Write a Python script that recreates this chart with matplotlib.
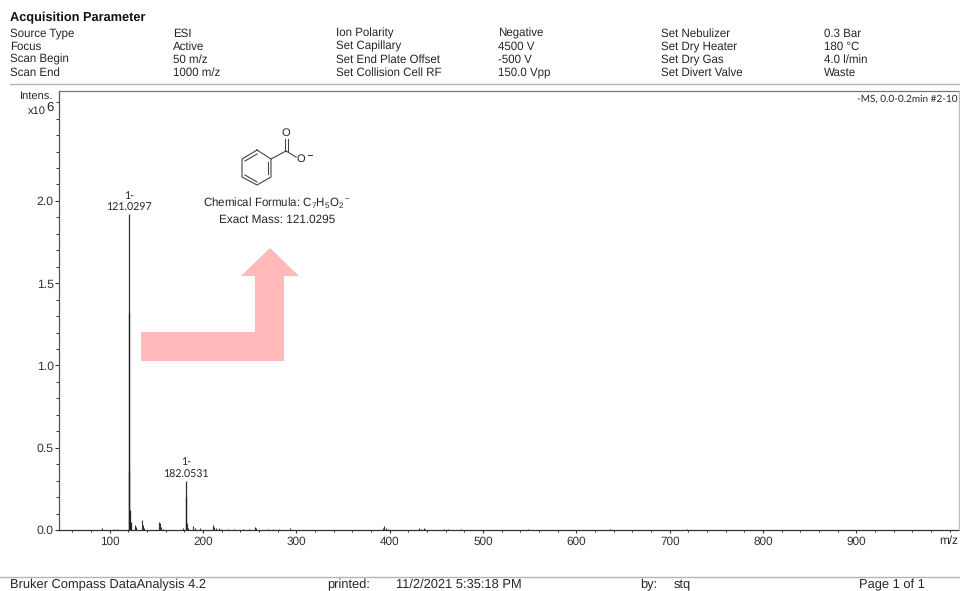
import matplotlib
matplotlib.use("Agg")
import matplotlib.pyplot as plt
from matplotlib.patches import Polygon
from matplotlib.ticker import MultipleLocator

plt.rcParams['font.family'] = ['Liberation Sans', 'DejaVu Sans']
plt.rcParams['mathtext.default'] = 'regular'
plt.rcParams['mathtext.fontset'] = 'custom'
plt.rcParams['mathtext.rm'] = 'Liberation Sans'
plt.rcParams['text.hinting'] = 'none'

W, H = 960, 591

# Spectrum
mz_main = [121.03, 182.05]
int_main = [1.92, 0.30]
mz_thick = [120.9, 121.3, 122.0, 122.5, 182.3]
int_thick = [1.32, 0.36, 0.12, 0.05, 0.20]
mz_small = [92, 105, 108, 127, 128, 135, 136, 137, 153, 154, 155, 157, 179, 183, 184,
            189, 191, 197, 211, 212, 214, 217, 219, 227, 233, 243, 249, 256, 257, 270,
            275, 281, 293, 393, 394, 396, 398, 431, 434, 437, 438, 458, 463, 476, 548,
            636, 718]
int_small = [0.010, 0.008, 0.008, 0.030, 0.018, 0.060, 0.030, 0.012, 0.050, 0.045, 0.018,
             0.008, 0.012, 0.040, 0.012, 0.025, 0.014, 0.012, 0.032, 0.018, 0.012, 0.010,
             0.008, 0.007, 0.007, 0.009, 0.007, 0.018, 0.010, 0.007, 0.006, 0.006, 0.010,
             0.012, 0.022, 0.012, 0.006, 0.014, 0.008, 0.014, 0.008, 0.005, 0.006, 0.005,
             0.005, 0.005, 0.005]

peak_labels = ["1-\n121.0297", "1-\n182.0531"]
x_ticks = [100, 200, 300, 400, 500, 600, 700, 800, 900]
y_ticks = [0.0, 0.5, 1.0, 1.5, 2.0]

# Header table
col_x = [10, 173, 336, 498, 661, 824]
col_text = [
    ["Source Type", "Focus", "Scan Begin", "Scan End"],
    ["ESI", "Active", "50 m/z", "1000 m/z"],
    ["Ion Polarity", "Set Capillary", "Set End Plate Offset", "Set Collision Cell RF"],
    ["Negative", "4500 V", "-500 V", "150.0 Vpp"],
    ["Set Nebulizer", "Set Dry Heater", "Set Dry Gas", "Set Divert Valve"],
    ["0.3 Bar", "180 °C", "4.0 l/min", "Waste"],
]
row_y = [36.4, 49.4, 62.4, 75.4]

fig = plt.figure(figsize=(W / 100, H / 100), dpi=100)

# overlay in image pixels for the page furniture
page = fig.add_axes([0, 0, 1, 1])
page.set_xlim(0, W)
page.set_ylim(H, 0)
page.axis('off')

TXT = '#262626'
page.text(10, 21, "Acquisition Parameter", fontsize=9.2, fontweight='bold', color='#111111', va='baseline')
for cx, col in zip(col_x, col_text):
    for ry, s in zip(row_y, col):
        page.text(cx, ry, s, fontsize=8.3, color=TXT, va='baseline')

page.plot([10, 960], [84, 84], color='#b5b5b5', lw=1)
page.plot([0, 960], [577, 577], color='#b5b5b5', lw=1)

page.text(10, 588, "Bruker Compass DataAnalysis 4.2", fontsize=9.3, color=TXT, va='baseline')
page.text(327, 588, "printed:", fontsize=9.3, color=TXT, va='baseline')
page.text(396, 588, "11/2/2021 5:35:18 PM", fontsize=9.3, color=TXT, va='baseline')
page.text(640, 588, "by:", fontsize=9.3, color=TXT, va='baseline')
page.text(674, 588, "stq", fontsize=9.3, color=TXT, va='baseline')
page.text(859, 588, "Page 1 of 1", fontsize=9.3, color=TXT, va='baseline')

# spectrum axes
left, right, top, bottom = 58.5, 958.5, 91, 530
ax = fig.add_axes([left / W, 1 - bottom / H, (right - left) / W, (bottom - top) / H])
ax.patch.set_alpha(0)
ax.set_xlim(45.3, 1009.3)
ax.set_ylim(0, 2.668)

ax.vlines(mz_main, 0, int_main, color='#333333', lw=0.9)
ax.vlines(mz_thick, 0, int_thick, color='#222222', lw=0.9)
ax.vlines(mz_small, 0, int_small, color='#333333', lw=0.8)

for mz, val, lab in zip(mz_main, int_main, peak_labels):
    ax.text(mz, val + 0.005, lab, ha='center', va='bottom', fontsize=7.7, color=TXT,
            family=['Lato', 'DejaVu Sans'], linespacing=1.3)

ax.set_xticks(x_ticks)
ax.set_yticks(y_ticks)
ax.set_yticklabels(["%.1f" % v for v in y_ticks])
ax.xaxis.set_minor_locator(MultipleLocator(20))
ax.yaxis.set_minor_locator(MultipleLocator(0.1))
ax.tick_params(axis='x', which='major', length=2.2, width=0.8, pad=2, labelsize=8.5, colors='#333333')
ax.tick_params(axis='x', which='minor', length=1.6, width=0.7, color='#333333')
ax.tick_params(axis='y', which='major', length=3, width=0.8, pad=0.5, labelsize=8.8, colors='#333333')
ax.tick_params(axis='y', which='minor', length=2, width=0.7, color='#333333')

ax.spines['left'].set_color('#555555')
ax.spines['bottom'].set_color('#333333')
ax.spines['top'].set_color('#777777')
ax.spines['right'].set_color('#bbbbbb')
for s in ax.spines.values():
    s.set_linewidth(0.9)

page.text(53, 96.5, "Intens.", fontsize=8, color=TXT, ha='right', va='center')
page.text(46, 111, "x10", fontsize=8, color=TXT, ha='right', va='center')
page.text(54, 108, "6", fontsize=9.5, color=TXT, ha='right', va='center')
page.text(958, 541, "m/z", fontsize=8.5, color=TXT, ha='right', va='center')
page.text(958, 99, "-MS, 0.0-0.2min #2-10", fontsize=7.2, color=TXT, ha='right', va='center',
          family=['Lato', 'DejaVu Sans'])

# pink arrow
page.add_patch(Polygon([(141, 332), (255, 332), (255, 276), (241, 276), (270, 248),
                        (299, 276), (284, 276), (284, 361), (141, 361)],
                       closed=True, facecolor='#ffb9b9', edgecolor='none', zorder=1))

# benzoate
LC = '#444444'
ring = [(257, 150), (271, 159), (271, 177), (257, 185), (242, 177), (242, 159), (257, 150)]
page.plot([p[0] for p in ring], [p[1] for p in ring], color=LC, lw=0.8)
page.plot([245, 257], [161, 154], color=LC, lw=0.8)
page.plot([268, 268], [162, 174], color=LC, lw=0.8)
page.plot([245, 257], [175, 182], color=LC, lw=0.8)
page.plot([271, 286], [159, 151], color=LC, lw=0.8)
page.plot([284.5, 284.5], [139, 151], color=LC, lw=0.8)
page.plot([287.5, 287.5], [139, 151], color=LC, lw=0.8)
page.plot([286, 296], [151, 157], color=LC, lw=0.8)
page.text(286, 133, "O", fontsize=8, color=TXT, ha='center', va='center')
page.text(301, 159, "O", fontsize=8, color=TXT, ha='center', va='center')
page.plot([308, 312], [155, 155], color=LC, lw=0.8)

page.text(277, 203, "Chemical Formula: C$_7$H$_5$O$_2$$^-$", fontsize=8.3, color=TXT, ha='center', va='center')
page.text(277, 220, "Exact Mass: 121.0295", fontsize=8.5, color=TXT, ha='center', va='center')

fig.savefig("out.png", dpi=100)
